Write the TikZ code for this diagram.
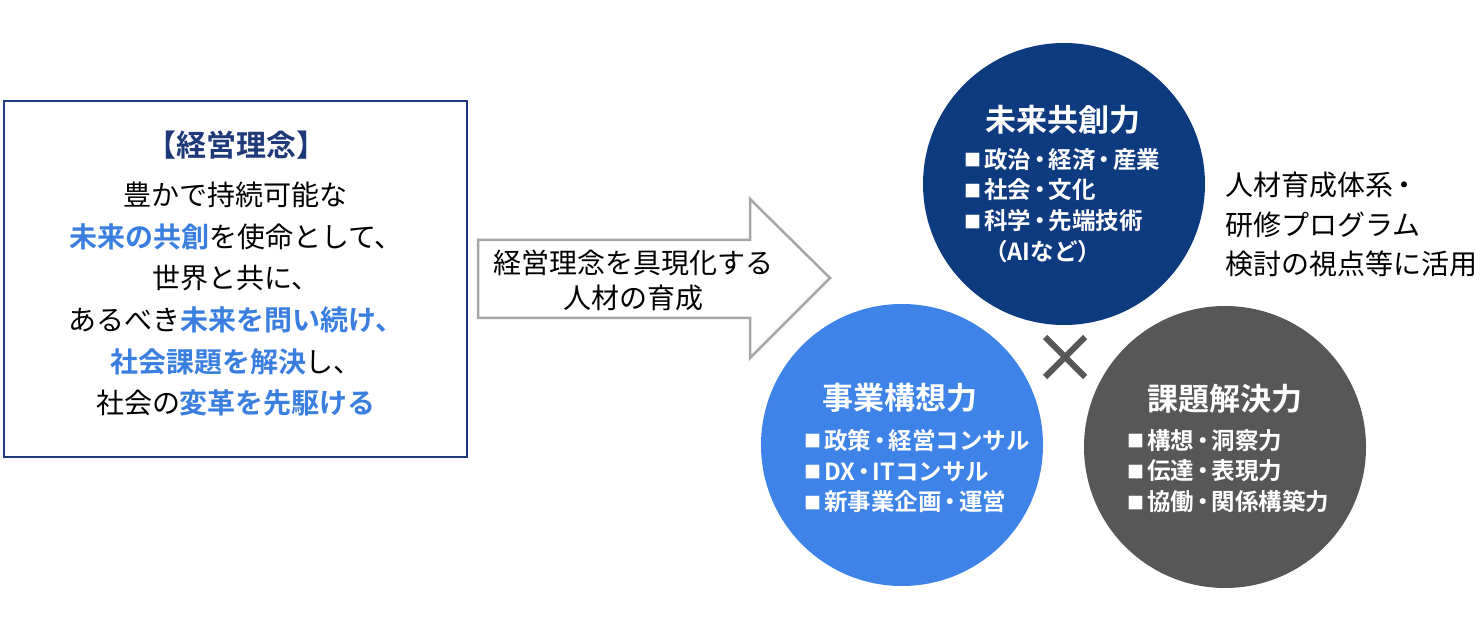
\documentclass[tikz,border=0pt]{standalone}
\usepackage{fontspec}
\usepackage{graphicx}
\usetikzlibrary{calc}
\setmainfont{Noto Sans CJK JP}[BoldFont={Noto Sans CJK JP Bold}]
\definecolor{navy}{HTML}{0E3A80}
\definecolor{cblue}{HTML}{3D83E8}
\definecolor{cgray}{HTML}{575757}
\definecolor{boxline}{HTML}{1E3A78}
\definecolor{btext}{HTML}{3A7FE0}
\definecolor{arrowline}{HTML}{A6A6A6}
\newcommand{\hl}[1]{\textbf{\textcolor{btext}{#1}}}
\newcommand{\sq}{\raisebox{1.5pt}{\fontsize{17}{17}\selectfont ■}\hspace{3pt}}
\newcommand{\md}{\hspace{-3pt}・\hspace{-3pt}}
\tikzset{
  circ/.style={circle, minimum size=282pt, inner sep=0pt},
  ctitle/.style={text=white, font=\bfseries\fontsize{31}{34}\selectfont, anchor=center},
  citems/.style={text=white, font=\bfseries\fontsize{23.5}{30.7}\selectfont, align=left, anchor=north west, inner sep=0pt},
  body/.style={font=\fontsize{28}{41.6}\selectfont, align=center, inner sep=0pt}
}
\begin{document}
\begin{tikzpicture}[x=1pt,y=-1pt]
\useasboundingbox (0,0) rectangle (1484,620);
% left box
\draw[boxline, line width=2.5pt] (4,101) rectangle (467,457);
\node[text=boxline, font=\bfseries\fontsize{30}{30}\selectfont] (title) at (236,145) {【経営理念】};
\node[body, anchor=north] (philo) at (236,182) {豊かで持続可能な\\
\hl{未来の共創}を使命として、\\
世界と共に、\\
あるべき\hl{未来を問い続け、}\\
\hl{社会課題を解決}し、\\
社会の\hl{変革を先駆ける}};
% arrow
\draw[arrowline, line width=2.5pt, fill=white] (478,240) -- (750,240) -- (750,199) -- (830,278) -- (750,358) -- (750,318) -- (478,318) -- cycle;
\node[font=\fontsize{28}{35}\selectfont, align=center] (arrowtext) at (633,280) {経営理念を具現化する\\人材の育成};
% circles
\node[circ, fill=navy] (c1) at (1064,184) {};
\node[circ, fill=cblue] (c2) at (902,445) {};
\node[circ, fill=cgray] (c3) at (1225,447) {};
\node[ctitle] (t1) at (1063,120) {未来共創力};
\node[citems] (i1) at (964,148) {\sq 政治\md 経済\md 産業\\\sq 社会\md 文化\\\sq 科学\md 先端技術\\\hspace{20pt}（AIなど）};
\node[ctitle] (t2) at (900,398) {事業構想力};
\node[citems] (i2) at (804,429) {\sq 政策\md 経営コンサル\\\sq DX\md ITコンサル\\\sq 新事業企画\md 運営};
\node[ctitle] (t3) at (1225,399) {課題解決力};
\node[citems] (i3) at (1127,429) {\sq 構想\md 洞察力\\\sq 伝達\md 表現力\\\sq 協働\md 関係構築力};
% cross
\coordinate (x0) at (1065,357);
\draw[cgray, line width=6pt] ($(x0)+(-20,-20)$) -- ($(x0)+(20,20)$);
\draw[cgray, line width=6pt] ($(x0)+(-20,20)$) -- ($(x0)+(20,-20)$);
% right text
\node[font=\fontsize{28}{39.5}\selectfont, align=left, anchor=north west, inner sep=0pt] (use) at (1225,172) {人材育成体系\md\\研修プログラム\\検討の視点等に活用};
\end{tikzpicture}
\end{document}
